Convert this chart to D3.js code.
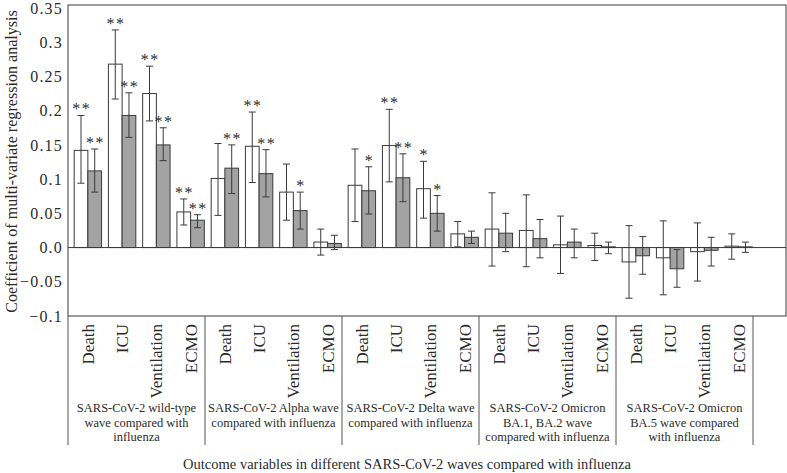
<!DOCTYPE html>
<html>
<head>
<meta charset="utf-8">
<script src="https://cdn.jsdelivr.net/npm/d3@7"></script>
<style>
  html, body { margin: 0; padding: 0; background: #fff; }
  svg { display: block; }
  text { font-family: "Liberation Serif", "Times New Roman", serif; fill: #2b2b2b; }
</style>
</head>
<body>
<svg id="chart" width="787" height="473"></svg>
<script>
// ---- data ----
const outcomes = ["Death", "ICU", "Ventilation", "ECMO"];
const waveLabels = [
  ["SARS-CoV-2 wild-type", "wave compared with", "influenza"],
  ["SARS-CoV-2 Alpha wave", "compared with influenza"],
  ["SARS-CoV-2 Delta wave", "compared with influenza"],
  ["SARS-CoV-2 Omicron", "BA.1, BA.2 wave", "compared with influenza"],
  ["SARS-CoV-2 Omicron", "BA.5 wave compared", "with influenza"]
];
// white bars (first series)
const whiteValues = [0.142, 0.268, 0.225, 0.052,  0.101, 0.148, 0.081, 0.008,  0.091, 0.149, 0.086, 0.020,  0.027, 0.025, 0.004, 0.003,  -0.021, -0.015, -0.006, 0.002];
const whiteUpper  = [0.193, 0.318, 0.265, 0.071,  0.152, 0.198, 0.122, 0.027,  0.144, 0.202, 0.126, 0.038,  0.080, 0.077, 0.046, 0.021,  0.032, 0.039, 0.036, 0.020];
const whiteLower  = [0.094, 0.217, 0.185, 0.033,  0.047, 0.095, 0.040, -0.011, 0.038, 0.096, 0.043, 0.001,  -0.027, -0.028, -0.038, -0.019, -0.074, -0.069, -0.049, -0.017];
const whiteStars  = ["**", "**", "**", "**",  "", "**", "", "",  "", "**", "*", "",  "", "", "", "",  "", "", "", ""];
// gray bars (second series)
const grayValues = [0.112, 0.193, 0.150, 0.040,  0.116, 0.108, 0.054, 0.006,  0.083, 0.102, 0.050, 0.015,  0.021, 0.013, 0.008, 0.001,  -0.012, -0.031, -0.004, 0.001];
const grayUpper  = [0.144, 0.226, 0.175, 0.048,  0.150, 0.143, 0.081, 0.018,  0.118, 0.137, 0.076, 0.024,  0.050, 0.041, 0.027, 0.008,  0.016, -0.003, 0.015, 0.008];
const grayLower  = [0.081, 0.161, 0.127, 0.029,  0.079, 0.074, 0.027, -0.003, 0.049, 0.067, 0.024, 0.006,  -0.006, -0.015, -0.015, -0.009, -0.039, -0.058, -0.027, -0.007];
const grayStars  = ["**", "**", "**", "**",  "**", "**", "*", "",  "*", "**", "*", "",  "", "", "", "",  "", "", "", ""];
const yTicks = [-0.1, -0.05, 0, 0.05, 0.1, 0.15, 0.2, 0.25, 0.3, 0.35];
const yTickLabels = ["\u22120.1", "\u22120.05", "0.0", "0.05", "0.1", "0.15", "0.2", "0.25", "0.3", "0.35"];
const yTitle = "Coefficient of multi-variate regression analysis";
const xTitle = "Outcome variables in different SARS-CoV-2 waves compared with influenza";

// ---- layout ----
const svg = d3.select("#chart");
const pLeft = 68, pRight = 786, pTop = 5, pBottom = 316;
const catRight = 753;

const cats = [];
waveLabels.forEach((w, gi) => outcomes.forEach((o, oi) => cats.push(gi + "-" + oi)));

const x = d3.scaleBand().domain(cats).range([pLeft, catRight])
  .paddingInner(0.2).paddingOuter(0.1).align(0.9);
const step = x.step();
const bw = x.bandwidth() / 2;
const y = d3.scaleLinear().domain([-0.1, 0.35]).range([pBottom, 8]);

// frame
svg.append("rect").attr("x", pLeft).attr("y", pTop)
  .attr("width", pRight - pLeft).attr("height", pBottom - pTop)
  .attr("fill", "none").attr("stroke", "#3a3a3a").attr("stroke-width", 1);

// y axis labels
const yAxis = d3.axisLeft(y).tickValues(yTicks)
  .tickFormat((d, i) => yTickLabels[i]).tickSize(0).tickPadding(5);
const ga = svg.append("g").attr("transform", `translate(${pLeft},0)`).call(yAxis);
ga.select(".domain").remove();
ga.selectAll("text").attr("font-size", 16).attr("letter-spacing", 1.2).attr("fill", "#2b2b2b")
  .style("font-family", "'Liberation Serif', 'Times New Roman', serif");

// bars
const series = [
  { vals: whiteValues, up: whiteUpper, lo: whiteLower, stars: whiteStars, fill: "#ffffff", off: 0 },
  { vals: grayValues, up: grayUpper, lo: grayLower, stars: grayStars, fill: "#a3a3a3", off: 1 }
];
series.forEach(s => {
  const g = svg.append("g");
  g.selectAll("rect").data(cats).join("rect")
    .attr("x", (c) => x(c) + s.off * bw)
    .attr("width", bw)
    .attr("y", (c, i) => y(Math.max(0, s.vals[i])))
    .attr("height", (c, i) => Math.abs(y(s.vals[i]) - y(0)))
    .attr("fill", s.fill).attr("stroke", "#3a3a3a").attr("stroke-width", 1);
});

// zero line
svg.append("line").attr("x1", pLeft).attr("x2", pRight)
  .attr("y1", y(0)).attr("y2", y(0)).attr("stroke", "#3a3a3a");

// error bars + stars
series.forEach(s => {
  const g = svg.append("g").attr("stroke", "#3a3a3a").attr("stroke-width", 1);
  cats.forEach((c, i) => {
    const cx = x(c) + s.off * bw + bw / 2;
    const y1 = y(s.up[i]), y2 = y(s.lo[i]);
    g.append("line").attr("x1", cx).attr("x2", cx).attr("y1", y1).attr("y2", y2);
    g.append("line").attr("x1", cx - 3.5).attr("x2", cx + 3.5).attr("y1", y1).attr("y2", y1);
    g.append("line").attr("x1", cx - 3.5).attr("x2", cx + 3.5).attr("y1", y2).attr("y2", y2);
    if (s.stars[i]) {
      svg.append("text").attr("x", cx + 0.75).attr("y", y1 - 1)
        .attr("text-anchor", "middle").attr("font-size", 16)
        .attr("letter-spacing", 1.5).attr("fill", "#555")
        .text(s.stars[i]);
    }
  });
});

// group separators
const groupEdges = d3.range(waveLabels.length + 1).map(k => pLeft + k * 4 * step);
svg.append("g").selectAll("line").data(groupEdges).join("line")
  .attr("x1", d => d).attr("x2", d => d).attr("y1", pBottom).attr("y2", 445)
  .attr("stroke", "#555").attr("stroke-width", 1);

// category labels
svg.append("g").selectAll("text").data(cats).join("text")
  .attr("transform", (c) => `translate(${x(c) + x.bandwidth() / 2 + 6},${pBottom + 8}) rotate(-90)`)
  .attr("text-anchor", "end").attr("font-size", 17)
  .text((c, i) => outcomes[i % 4]);

// group labels
waveLabels.forEach((lines, gi) => {
  const cx = (groupEdges[gi] + groupEdges[gi + 1]) / 2;
  const t = svg.append("text").attr("x", cx).attr("y", 412)
    .attr("text-anchor", "middle").attr("font-size", 12.5);
  lines.forEach((ln, li) => {
    t.append("tspan").attr("x", cx).attr("y", 412 + li * 14.5).text(ln);
  });
});

// axis titles
svg.append("text").attr("transform", `translate(17,${(pTop + pBottom) / 2 + 1}) rotate(-90)`)
  .attr("text-anchor", "middle").attr("font-size", 16.1).text(yTitle);
svg.append("text").attr("x", 407).attr("y", 469)
  .attr("text-anchor", "middle").attr("font-size", 14.5).text(xTitle);
</script>
</body>
</html>
